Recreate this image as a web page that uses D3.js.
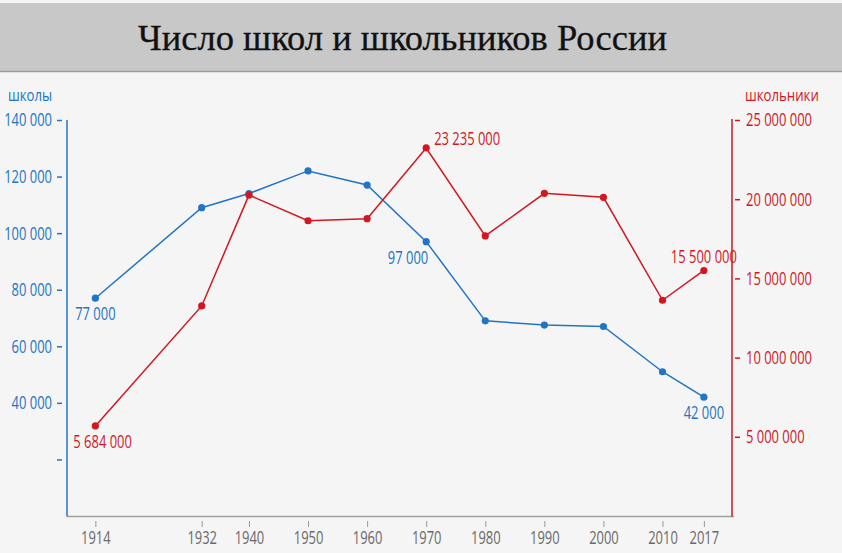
<!DOCTYPE html>
<html>
<head>
<meta charset="utf-8">
<script src="https://cdn.jsdelivr.net/npm/d3@7"></script>
<style>
  html, body { margin: 0; padding: 0; background: #f5f5f5; }
  svg { display: block; }
  .cond { font-family: "Open Sans", "Noto Sans", sans-serif; }
</style>
</head>
<body>
<svg id="chart" width="842" height="553"></svg>
<script>
const title = "Число школ и школьников России";
const leftTitle = "школы";
const rightTitle = "школьники";
const years = [1914, 1932, 1940, 1950, 1960, 1970, 1980, 1990, 2000, 2010, 2017];
const schools = [77000, 109000, 114000, 122000, 117000, 97000, 69000, 67500, 67000, 51000, 42000];
const pupils = [5684000, 13260000, 20260000, 18640000, 18770000, 23235000, 17680000, 20370000, 20120000, 13620000, 15500000];
const leftTicks = [20000, 40000, 60000, 80000, 100000, 120000, 140000];
const rightTicks = [5000000, 10000000, 15000000, 20000000, 25000000];
const schoolLabels = [ {i: 0, pos: "below"}, {i: 5, pos: "belowLeft"}, {i: 10, pos: "below"} ];
const pupilLabels = [ {i: 0, pos: "belowStart"}, {i: 5, pos: "aboveRight"}, {i: 10, pos: "above"} ];

const BLUE = "#2274c6";
const RED = "#d3161f";

const loc = d3.formatLocale({decimal: ",", thousands: " ", grouping: [3], currency: ["", ""]});
const fmt = loc.format(",d");

const svg = d3.select("#chart");
const W = 842, H = 553;
const FS = 18.5;
const SQUEEZE = 0.70;
const TITLE_SQUEEZE = 0.80;

svg.append("rect").attr("x", 0).attr("y", 0).attr("width", W).attr("height", H).attr("fill", "#f5f5f5");
svg.append("rect").attr("x", 0).attr("y", 3).attr("width", W).attr("height", 69).attr("fill", "#c8c8c8");
svg.append("line").attr("x1", 0).attr("x2", W).attr("y1", 71.5).attr("y2", 71.5).attr("stroke", "#9a9a9a").attr("stroke-width", 1.5);
svg.append("text").attr("x", 402.5).attr("y", 50).attr("text-anchor", "middle")
  .attr("font-family", "'Liberation Serif', 'DejaVu Serif', serif").attr("font-size", 36.5)
  .attr("fill", "#111").attr("stroke", "#111").attr("stroke-width", 0.3).text(title);

const x = d3.scaleLinear().domain([1909.2, 2022.1]).range([67, 734]);
const yL = d3.scaleLinear().domain([0, 140000]).range([516, 120]);
const yR = d3.scaleLinear().domain([0, 25000000]).range([516, 120]);

svg.append("line").attr("x1", x.range()[0]).attr("x2", x.range()[1]).attr("y1", 516.5).attr("y2", 516.5)
  .attr("stroke", "#a0a0a0").attr("stroke-width", 1.5);

const gx = svg.append("g").attr("class", "cond").attr("transform", "translate(0,521)")
  .call(d3.axisBottom(x).tickValues(years).tickFormat(d3.format("d")).tickSize(6).tickPadding(4));
gx.select(".domain").remove();
gx.selectAll(".tick line").attr("stroke", "#999").attr("stroke-width", 1);
gx.selectAll(".tick text").attr("fill", "#6a6a6a").attr("font-size", FS).attr("font-family", null);

svg.append("line").attr("x1", 67).attr("x2", 67).attr("y1", 120).attr("y2", 516.5)
  .attr("stroke", BLUE).attr("stroke-width", 1.5);
const gl = svg.append("g").attr("class", "cond").attr("transform", "translate(62,0)")
  .call(d3.axisLeft(yL).tickValues(leftTicks).tickFormat(d => d === 20000 ? "" : fmt(d)).tickSize(5).tickPadding(5));
gl.select(".domain").remove();
gl.selectAll(".tick line").attr("stroke", BLUE).attr("stroke-width", 1.5);
gl.selectAll(".tick text").attr("fill", BLUE).attr("font-size", FS).attr("font-family", null);

svg.append("line").attr("x1", 732).attr("x2", 732).attr("y1", 119).attr("y2", 516.5)
  .attr("stroke", RED).attr("stroke-width", 1.5);
const gr = svg.append("g").attr("class", "cond").attr("transform", "translate(735,0)")
  .call(d3.axisRight(yR).tickValues(rightTicks).tickFormat(fmt).tickSize(5).tickPadding(6));
gr.select(".domain").remove();
gr.selectAll(".tick line").attr("stroke", RED).attr("stroke-width", 1.5);
gr.selectAll(".tick text").attr("fill", RED).attr("font-size", FS).attr("font-family", null);

svg.append("text").attr("class", "cond axtitle").attr("x", 8).attr("y", 101).attr("font-size", 16.5)
  .attr("fill", BLUE).text(leftTitle);
svg.append("text").attr("class", "cond axtitle").attr("x", 745).attr("y", 101).attr("font-size", 16.5)
  .attr("fill", RED).text(rightTitle);

function drawSeries(vals, y, color, labels) {
  const pts = years.map((yr, i) => [x(yr), y(vals[i])]);
  svg.append("path").attr("d", d3.line()(pts)).attr("fill", "none")
    .attr("stroke", color).attr("stroke-width", 1.5);
  svg.append("g").selectAll("circle").data(pts).join("circle")
    .attr("cx", d => d[0]).attr("cy", d => d[1]).attr("r", 3.6).attr("fill", color);
  labels.forEach(l => {
    const [px, py] = pts[l.i];
    let tx = px, ty = py, anchor = "middle";
    if (l.pos === "below") { ty = py + 22; }
    else if (l.pos === "belowLeft") { tx = px + 2; ty = py + 22; anchor = "end"; }
    else if (l.pos === "belowStart") { tx = px - 22; ty = py + 22; anchor = "start"; }
    else if (l.pos === "aboveRight") { tx = px + 8; ty = py - 3; anchor = "start"; }
    else if (l.pos === "above") { ty = py - 7; }
    svg.append("text").attr("class", "cond").attr("x", tx).attr("y", ty)
      .attr("text-anchor", anchor).attr("font-size", FS).attr("fill", color)
      .text(fmt(vals[l.i]));
  });
}

drawSeries(schools, yL, BLUE, schoolLabels);
drawSeries(pupils, yR, RED, pupilLabels);

// emulate a condensed face: compress glyphs horizontally
svg.selectAll(".cond text, text.cond").each(function() {
  const w = this.getComputedTextLength();
  const k = this.classList.contains("axtitle") ? TITLE_SQUEEZE : SQUEEZE;
  if (w > 0) {
    d3.select(this).attr("textLength", (w * k).toFixed(1)).attr("lengthAdjust", "spacingAndGlyphs");
  }
});
</script>
</body>
</html>
